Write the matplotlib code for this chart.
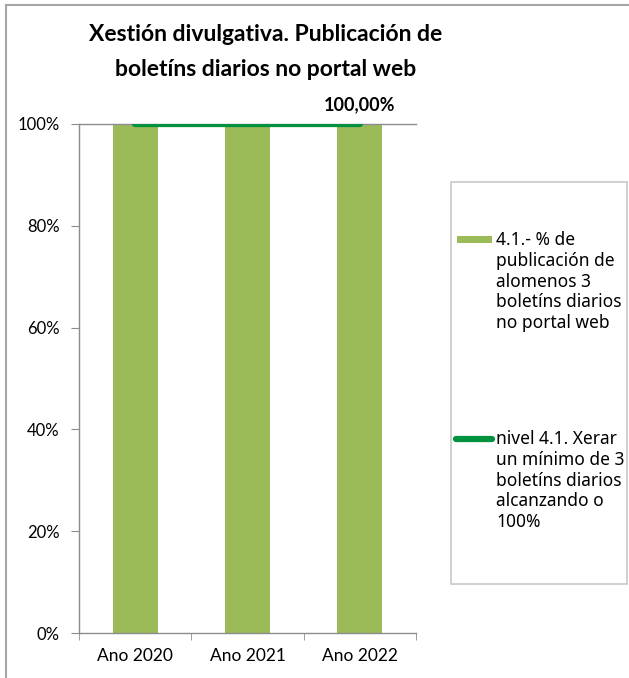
import matplotlib
matplotlib.use('Agg')
import matplotlib.pyplot as plt
from matplotlib.patches import Rectangle
from matplotlib.lines import Line2D
from matplotlib.ticker import PercentFormatter

# data
categories = ['Ano 2020', 'Ano 2021', 'Ano 2022']
publicacion = [1.0, 1.0, 1.0]
nivel = [1.0, 1.0, 1.0]
title = 'Xestión divulgativa. Publicación de\nboletíns diarios no portal web'
legend_labels = [
    '4.1.- % de\npublicación de\nalomenos 3\nboletíns diarios\nno portal web',
    'nivel 4.1. Xerar\nun mínimo de 3\nboletíns diarios\nalcanzando o\n100%',
]
value_label = '100,00%'

bar_color = '#9BBB59'
line_color = '#00923F'
axis_grey = '#8c8c8c'

W, H = 629, 678
fig = plt.figure(figsize=(W / 100, H / 100), dpi=100)

# outer chart frame (only top and left show in the crop)
fig.add_artist(Line2D([6 / W, 6 / W], [0, 1 - 5 / H], color='#a6a6a6', lw=1.5))
fig.add_artist(Line2D([6 / W, 1], [1 - 5 / H, 1 - 5 / H], color='#a6a6a6', lw=1.5))

ax = fig.add_axes([79 / W, 1 - 633 / H, 337 / W, (633 - 124) / H])
x = list(range(len(categories)))
ax.bar(x, publicacion, width=0.4, color=bar_color, zorder=2)
ax.plot(x, nivel, color=line_color, lw=4.5, solid_capstyle='round', zorder=3)

ax.set_xlim(-0.5, len(categories) - 0.5)
ax.set_ylim(0, 1)
ax.yaxis.set_major_formatter(PercentFormatter(1.0, decimals=0))
ax.set_yticks([0, 0.2, 0.4, 0.6, 0.8, 1.0])
ax.set_xticks(x)
ax.set_xticklabels(categories, fontfamily='Lato', fontsize=12.5)
ax.set_xticks([i - 0.5 for i in range(len(categories) + 1)], minor=True)
ax.tick_params(axis='x', which='major', length=0, pad=11)
ax.tick_params(axis='x', which='minor', length=5, color=axis_grey, direction='out')
ax.tick_params(axis='y', length=6, color=axis_grey, direction='out', pad=8)
for lab in ax.get_yticklabels():
    lab.set_fontfamily('Lato')
    lab.set_fontsize(12)

ax.spines['right'].set_visible(False)
for side in ['left', 'bottom', 'top']:
    ax.spines[side].set_color(axis_grey)
    ax.spines[side].set_linewidth(1)

# data label over the last bar
ax.annotate(value_label, (x[-1], publicacion[-1]), xytext=(0, 8), textcoords='offset points',
            ha='center', va='bottom', fontsize=13, fontweight='bold', fontfamily='Lato')

fig.text(266 / W, 1 - 52 / H, title, ha='center', va='center', fontsize=16.5,
         fontweight='bold', fontfamily='Lato', linespacing=1.8)

# legend box drawn by hand so the keys line up with the first text line
fig.add_artist(Rectangle((451 / W, 1 - 584 / H), (627 - 451) / W, (584 - 182) / H,
                         transform=fig.transFigure, facecolor='white',
                         edgecolor='#c8c8c8', lw=1.2))
fig.add_artist(Rectangle((457 / W, 1 - 243 / H), 35 / W, 7 / H,
                         transform=fig.transFigure, facecolor=bar_color, edgecolor='none'))
fig.add_artist(Line2D([456 / W, 492 / W], [1 - 439 / H, 1 - 439 / H], color=line_color,
                      lw=4.5, solid_capstyle='round'))
for lab, ytop in zip(legend_labels, [231, 430]):
    fig.text(496 / W, 1 - ytop / H, lab, ha='left', va='top', fontsize=12.5,
             fontfamily='Noto Sans', linespacing=1.2)

fig.savefig('out.png', dpi=100)
